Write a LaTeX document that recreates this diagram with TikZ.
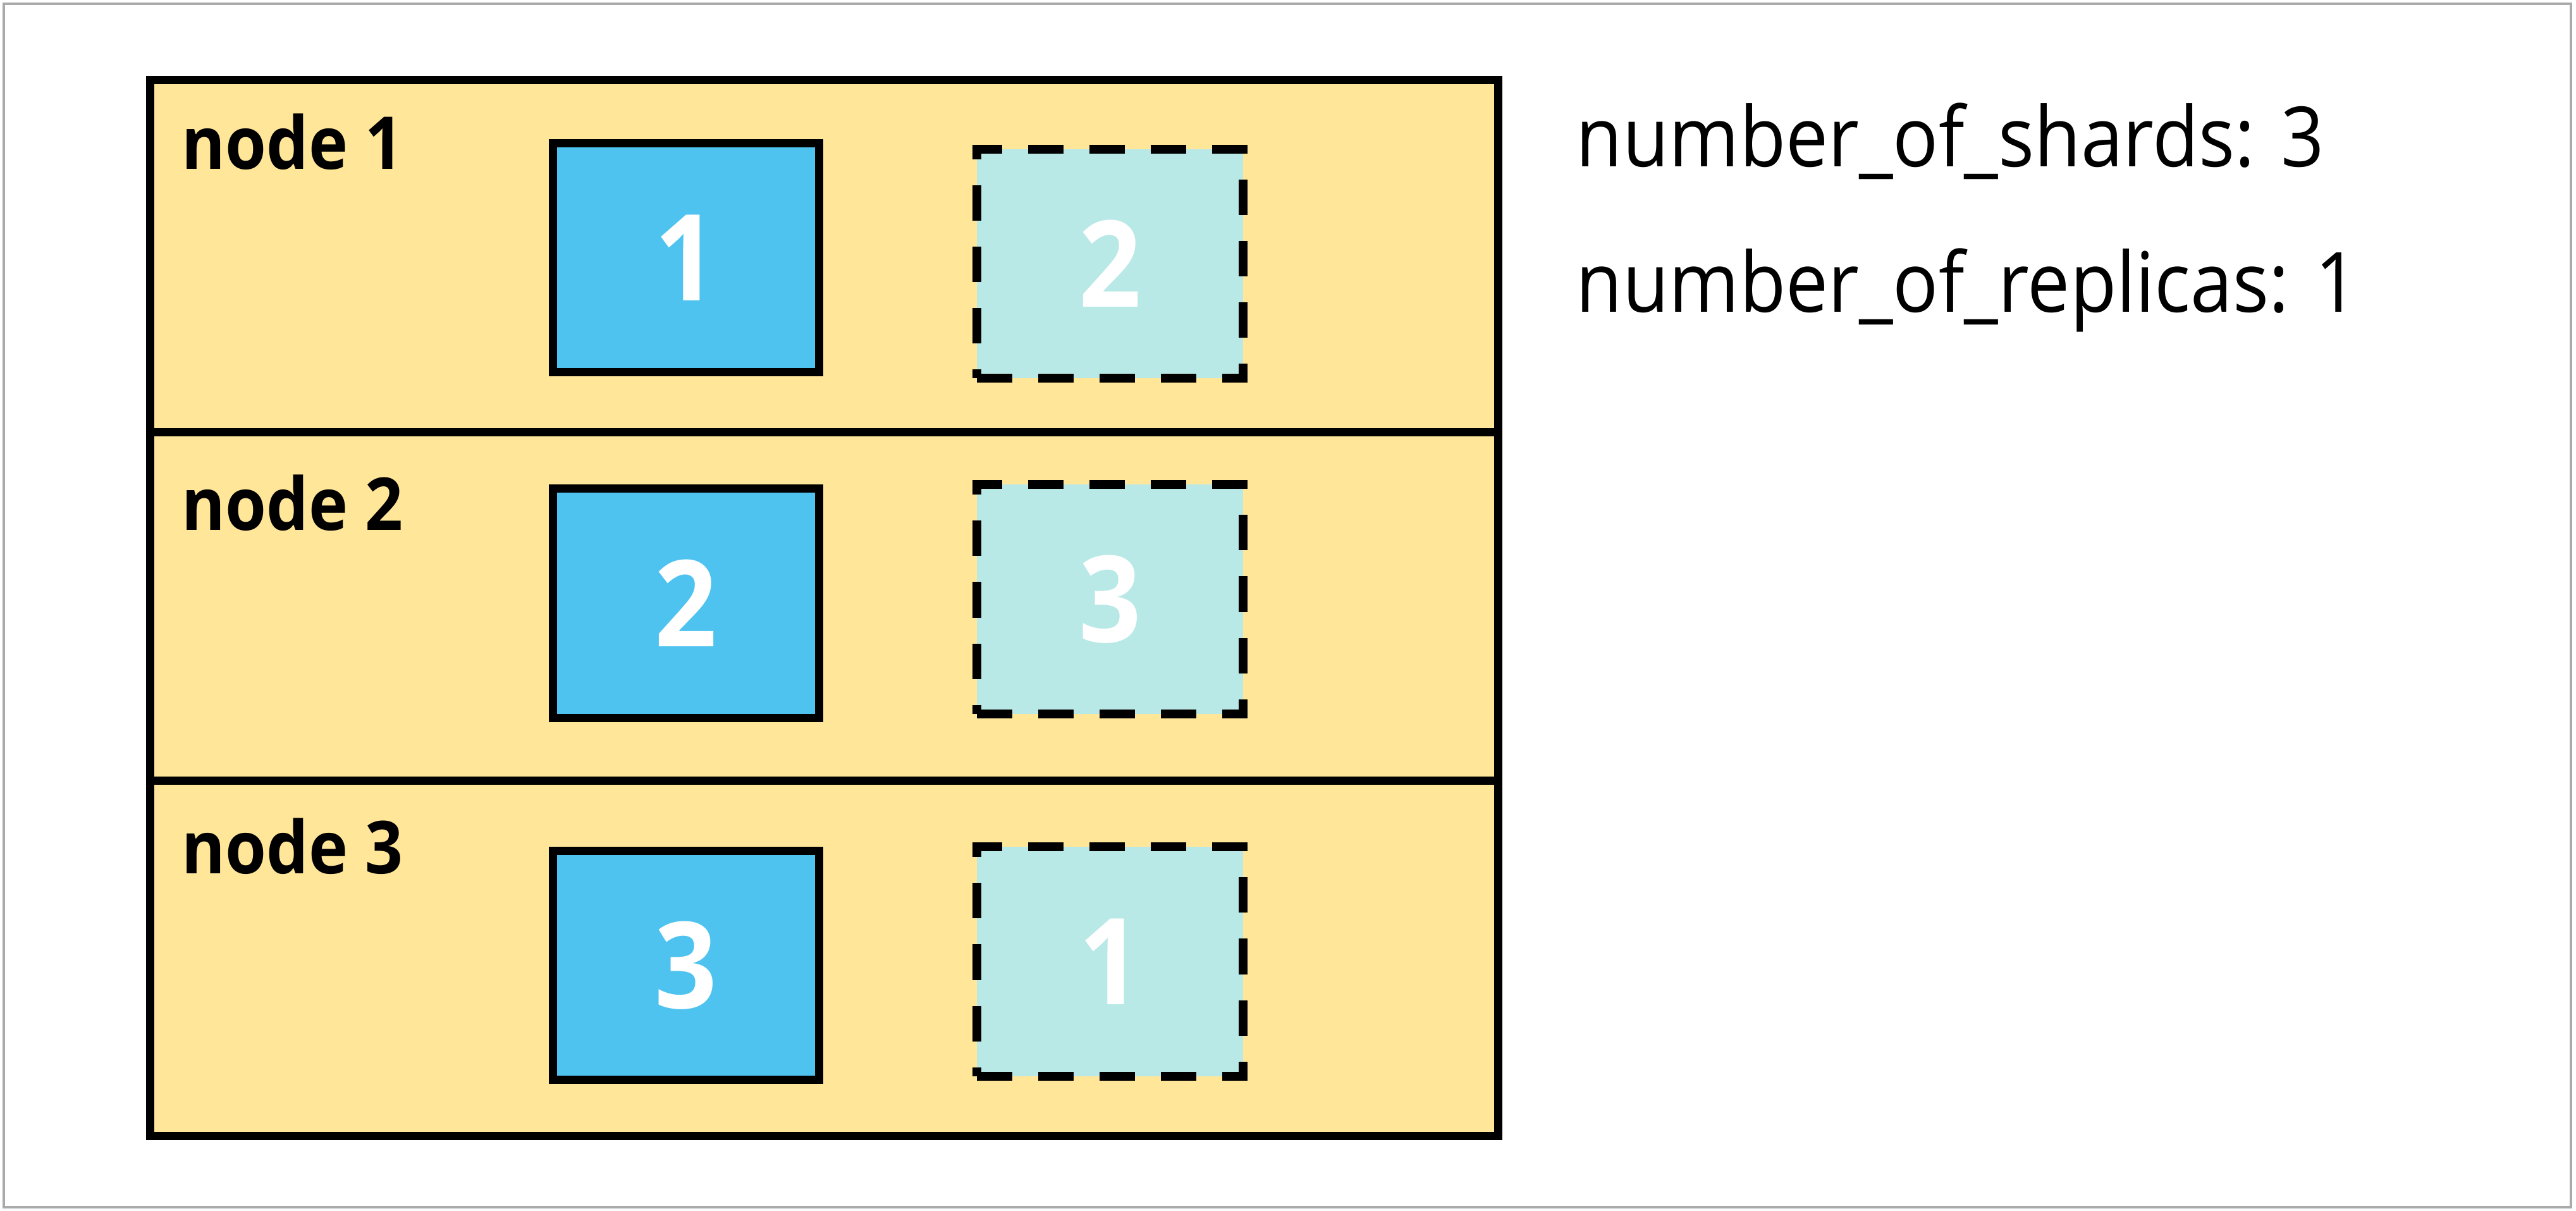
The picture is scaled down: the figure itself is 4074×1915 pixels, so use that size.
\documentclass[tikz,border=0pt]{standalone}
\usepackage{fontspec}
\setmainfont[FakeStretch=0.91]{Open Sans}
\definecolor{rowyellow}{RGB}{255,230,153}
\definecolor{primblue}{RGB}{79,195,239}
\definecolor{replteal}{RGB}{185,233,230}
\definecolor{framegray}{RGB}{170,170,170}
\tikzset{
  rowbox/.style={draw=black, fill=rowyellow, line width=0.13cm, inner sep=0, minimum width=21.30cm},
  primary/.style={draw=black, fill=primblue, line width=0.13cm, inner sep=0, minimum width=4.21cm, minimum height=3.62cm,
     text=white, font=\bfseries\fontsize{54pt}{60pt}\selectfont},
  replica/.style={draw=black, fill=replteal, line width=0.14cm, dash pattern=on 0.56cm off 0.41cm, inner sep=0,
     minimum width=4.21cm, minimum height=3.62cm, text=white, font=\bfseries\fontsize{54pt}{60pt}\selectfont},
  rowlabel/.style={anchor=base west, inner sep=0, font=\bfseries\fontsize{32.8pt}{38pt}\selectfont},
  setting/.style={anchor=base west, inner sep=0, font=\fontsize{37.4pt}{45pt}\selectfont}
}
\begin{document}
\begin{tikzpicture}[x=0.01cm, y=-0.01cm]
\useasboundingbox (0,0) rectangle (4074,1915);
\draw[framegray, line width=0.04cm] (6,6) rectangle (4066,1909);
% rows (cluster nodes)
\node[rowbox, minimum height=5.575cm] (row1) at (1303.5,405.25) {};
\node[rowbox, minimum height=5.51cm] (row2) at (1303.5,959.5) {};
\node[rowbox, minimum height=5.61cm] (row3) at (1303.5,1515.5) {};
% labels
\node[rowlabel] (lab1) at (287,267) {node 1};
\node[rowlabel] (lab2) at (287,838) {node 2};
\node[rowlabel] (lab3) at (287,1381) {node 3};
% primary shards
\node[primary] (p1) at (1085,407.5) {1};
\node[primary] (p2) at (1085,954) {2};
\node[primary] (p3) at (1085,1526.5) {3};
% replica shards
\node[replica] (r2) at (1755.5,417) {2};
\node[replica] (r3) at (1755.5,947.5) {3};
\node[replica] (r1) at (1755.5,1520.5) {1};
% settings
\node[setting] (shards) at (2492,263) {number\_of\_shards: 3};
\node[setting] (replicas) at (2492,493) {number\_of\_replicas: 1};
\end{tikzpicture}
\end{document}
